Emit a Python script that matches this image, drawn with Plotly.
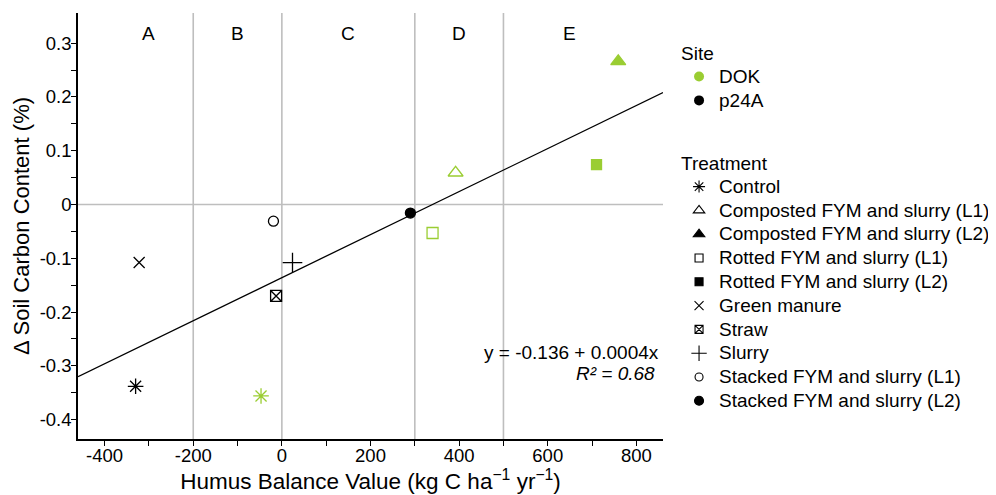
import plotly.graph_objects as go
import numpy as np

# ---------------- data ----------------
site = ["p24A", "p24A", "p24A", "p24A", "p24A", "p24A",
        "DOK", "DOK", "DOK", "DOK", "DOK"]
treatment = ["Control", "Green manure", "Straw", "Slurry",
             "Stacked FYM and slurry (L1)", "Stacked FYM and slurry (L2)",
             "Control", "Rotted FYM and slurry (L1)", "Composted FYM and slurry (L1)",
             "Rotted FYM and slurry (L2)", "Composted FYM and slurry (L2)"]
humus_balance = [-330, -322, -13, 24, -19, 290, -47, 340, 392, 710, 759]
delta_soc = [-0.338, -0.108, -0.170, -0.108, -0.031, -0.016,
             -0.356, -0.053, 0.059, 0.074, 0.266]

sites = ["DOK", "p24A"]
treatments = ["Control", "Composted FYM and slurry (L1)", "Composted FYM and slurry (L2)",
              "Rotted FYM and slurry (L1)", "Rotted FYM and slurry (L2)", "Green manure",
              "Straw", "Slurry", "Stacked FYM and slurry (L1)", "Stacked FYM and slurry (L2)"]

zone_bounds = [-200, 0, 300, 500]
zone_labels = ["A", "B", "C", "D", "E"]
zone_label_x = [-300, -100, 150, 400, 650]

fit_intercept = -0.136
fit_slope = 0.0004
fit_r2 = 0.68

x_tick_vals = [-400, -200, 0, 200, 400, 600, 800]
x_tick_text = ["-400", "-200", "0", "200", "400", "600", "800"]
x_minor_vals = [-300, -100, 100, 300, 500, 700]
y_tick_vals = [-0.4, -0.3, -0.2, -0.1, 0, 0.1, 0.2, 0.3]
y_tick_text = ["-0.4", "-0.3", "-0.2", "-0.1", "0", "0.1", "0.2", "0.3"]
y_minor_vals = [-0.35, -0.25, -0.15, -0.05, 0.05, 0.15, 0.25]

# ---------------- styles ----------------
FONT = "Liberation Sans, Arial, Helvetica, sans-serif"
GREEN = "#9ACD32"
site_color = {"DOK": GREEN, "p24A": "#000000"}
symbol_of = {
    "Control": "asterisk-open",
    "Composted FYM and slurry (L1)": "triangle-up-open",
    "Composted FYM and slurry (L2)": "triangle-up",
    "Rotted FYM and slurry (L1)": "square-open",
    "Rotted FYM and slurry (L2)": "square",
    "Green manure": "x-thin-open",
    "Straw": "square-x-open",
    "Slurry": "cross-thin-open",
    "Stacked FYM and slurry (L1)": "circle-open",
    "Stacked FYM and slurry (L2)": "circle",
}
size_of = {
    "Control": 13, "Composted FYM and slurry (L1)": 13, "Composted FYM and slurry (L2)": 13,
    "Rotted FYM and slurry (L1)": 11, "Rotted FYM and slurry (L2)": 10, "Green manure": 11,
    "Straw": 11, "Slurry": 14, "Stacked FYM and slurry (L1)": 10,
    "Stacked FYM and slurry (L2)": 10,
}
legend_size_of = {
    "Control": 10, "Composted FYM and slurry (L1)": 10, "Composted FYM and slurry (L2)": 10,
    "Rotted FYM and slurry (L1)": 8, "Rotted FYM and slurry (L2)": 8, "Green manure": 9,
    "Straw": 8, "Slurry": 11, "Stacked FYM and slurry (L1)": 8,
    "Stacked FYM and slurry (L2)": 9,
}

x_range = [-460, 860]
y_range = [-0.436, 0.356]

fig = go.Figure()

# regression line
fx = np.array(x_range, dtype=float)
fig.add_trace(go.Scatter(x=fx, y=fit_intercept + fit_slope * fx, mode="lines",
                         line=dict(color="black", width=1.3), showlegend=False,
                         hoverinfo="skip"))

# data points, one trace per site
for s in sites:
    idx = [i for i, v in enumerate(site) if v == s]
    cols = [site_color[s]] * len(idx)
    fig.add_trace(go.Scatter(
        x=[humus_balance[i] for i in idx],
        y=[delta_soc[i] for i in idx],
        mode="markers",
        marker=dict(symbol=[symbol_of[treatment[i]] for i in idx],
                    size=[size_of[treatment[i]] for i in idx],
                    color=cols, opacity=1, line=dict(color=cols, width=1.3)),
        text=[treatment[i] for i in idx],
        showlegend=False,
    ))


def lg(t):
    return '<span style="font-size:19px">' + t + '</span>'


# legend: Site
for s in sites:
    fig.add_trace(go.Scatter(x=[None], y=[None], mode="markers", name=lg(s),
                             marker=dict(symbol="circle", size=10, color=site_color[s]),
                             legend="legend"))
# legend: Treatment
for t in treatments:
    fig.add_trace(go.Scatter(x=[None], y=[None], mode="markers", name=lg(t),
                             marker=dict(symbol=symbol_of[t], size=legend_size_of[t],
                                         color="black",
                                         line=dict(color="black", width=1.1)),
                             legend="legend2"))

shapes = []
for b in zone_bounds:
    shapes.append(dict(type="line", xref="x", yref="paper", x0=b, x1=b, y0=0, y1=1,
                       line=dict(color="#BEBEBE", width=1.6), layer="below"))
shapes.append(dict(type="line", xref="paper", yref="y", x0=0, x1=1, y0=0, y1=0,
                   line=dict(color="#BEBEBE", width=1.6), layer="below"))

annotations = []
for lab, lx in zip(zone_labels, zone_label_x):
    annotations.append(dict(x=lx, y=0.318, xref="x", yref="y", text=lab, showarrow=False,
                            font=dict(size=19, color="black", family=FONT)))
annotations.append(dict(x=0.997, y=-0.276, xref="paper", yref="y", xanchor="right",
                        text="y = %.3f + %.4fx" % (fit_intercept, fit_slope),
                        showarrow=False, font=dict(size=19, color="black", family=FONT)))
annotations.append(dict(x=0.99, y=-0.3136, xref="paper", yref="y", xanchor="right",
                        text="<i>R² = %.2f</i>" % fit_r2,
                        showarrow=False, font=dict(size=19, color="black", family=FONT)))

fig.update_layout(
    width=988, height=487,
    margin=dict(l=70, r=333, t=5, b=56),
    paper_bgcolor="white", plot_bgcolor="white",
    font=dict(family=FONT, color="black", size=18.5),
    shapes=shapes, annotations=annotations,
    xaxis=dict(range=x_range, showline=True, linecolor="black", linewidth=1.5,
               automargin=False, ticklabelstandoff=-6,
               ticks="outside", ticklen=5, tickwidth=1, tickcolor="black",
               tickmode="array", tickvals=x_tick_vals, ticktext=x_tick_text,
               minor=dict(tickmode="array", tickvals=x_minor_vals, ticks="outside",
                          ticklen=5, tickwidth=1, tickcolor="black"),
               showgrid=False, zeroline=False, tickfont=dict(size=18.5),
               title=dict(text="Humus Balance Value (kg C ha<sup>−1</sup> yr<sup>−1</sup>)",
                          font=dict(size=22.5), standoff=2)),
    yaxis=dict(range=y_range, showline=True, linecolor="black", linewidth=1.5,
               automargin=True, ticklabelstandoff=-4,
               ticks="outside", ticklen=5, tickwidth=1, tickcolor="black",
               tickmode="array", tickvals=y_tick_vals, ticktext=y_tick_text,
               minor=dict(tickmode="array", tickvals=y_minor_vals, ticks="outside",
                          ticklen=5, tickwidth=1, tickcolor="black"),
               showgrid=False, zeroline=False, tickfont=dict(size=18.5),
               title=dict(text="Δ Soil Carbon Content (%)", font=dict(size=22), standoff=4)),
    legend=dict(title=dict(text="Site", font=dict(size=19)),
                xref="container", yref="container", x=0.6792, y=0.9446,
                xanchor="left", yanchor="top", font=dict(size=16), maxheight=330,
                bgcolor="rgba(0,0,0,0)", traceorder="normal"),
    legend2=dict(title=dict(text="Treatment", font=dict(size=19)),
                 xref="container", yref="container", x=0.6792, y=0.7187,
                 xanchor="left", yanchor="top", font=dict(size=16), maxheight=330,
                 bgcolor="rgba(0,0,0,0)", traceorder="normal"),
)

fig.write_html("out.html")
